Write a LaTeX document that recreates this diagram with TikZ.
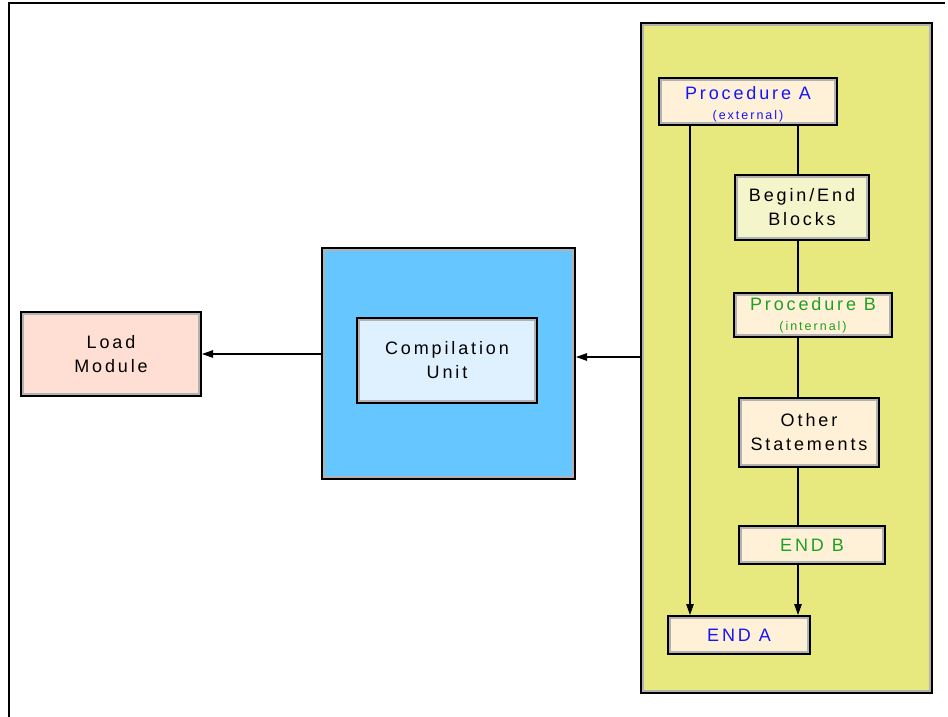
\documentclass[tikz,border=0pt]{standalone}
\usepackage{fontspec}
\setmainfont[LetterSpace=16]{Liberation Sans}
\usetikzlibrary{arrows.meta}
\definecolor{contyel}{HTML}{E7E97F}
\definecolor{cream}{HTML}{FFF1D7}
\definecolor{paleyel}{HTML}{F4F5CB}
\definecolor{cublue}{HTML}{66C6FF}
\definecolor{cuin}{HTML}{DFF0FE}
\definecolor{lmpink}{HTML}{FFDFD3}
\definecolor{txtblue}{HTML}{1414FF}
\definecolor{txtgreen}{HTML}{20A020}
\tikzset{
  box/.style={draw=black, line width=2pt, inner sep=0pt, align=center,
    font=\fontsize{18}{24}\selectfont,
    path picture={\draw[line width=5.5pt, black!30]
      (path picture bounding box.south west) rectangle (path picture bounding box.north east);}},
  lbl/.style={inner sep=0pt, align=center, font=\fontsize{18}{24}\selectfont},
  conn/.style={line width=1.2pt, draw=black},
  arr/.style={conn, -{Triangle[length=11pt,width=7.5pt]}},
}
\begin{document}
\begin{tikzpicture}[x=1pt,y=-1pt]
\useasboundingbox (0,0) rectangle (948,717);
\draw[line width=1.3pt] (9,717) -- (9,3) -- (945,3);

\node[box, fill=contyel, minimum width=291pt, minimum height=670pt] (cont) at (786.5,358) {};
\node[box, fill=cream, minimum width=178pt, minimum height=47pt] (pa) at (748,101.5) {};
\node[lbl] (pat) at ([yshift=-2.5pt]pa.center)
  {\textcolor{txtblue}{Procedure A}\\[-4pt]{\fontsize{12.5}{13}\selectfont\textcolor{txtblue}{(external)}}};
\node[box, fill=paleyel, minimum width=134pt, minimum height=65pt] (be) at (802,207.5)
  {Begin/End\\Blocks};
\node[box, fill=cream, minimum width=158pt, minimum height=44pt] (pb) at (813,315)
  {\textcolor{txtgreen}{Procedure B}\\[-4pt]{\fontsize{12.5}{13}\selectfont\textcolor{txtgreen}{(internal)}}};
\node[box, fill=cream, minimum width=140pt, minimum height=69pt] (os) at (809,432.5)
  {Other\\Statements};
\node[box, fill=cream, minimum width=146pt, minimum height=38pt] (eb) at (812,545)
  {\textcolor{txtgreen}{END B}};
\node[box, fill=cream, minimum width=142pt, minimum height=38pt] (ea) at (739,635)
  {\textcolor{txtblue}{END A}};

\node[box, fill=cublue, minimum width=253pt, minimum height=231pt] (cu) at (448.5,363.5) {};
\node[box, fill=cuin, minimum width=180pt, minimum height=85pt] (cui) at (447,360.5)
  {Compilation\\Unit};
\node[box, fill=lmpink, minimum width=180pt, minimum height=84pt] (lm) at (111,354)
  {Load\\Module};

\coordinate (la) at (690,0);
\coordinate (lb) at (798,0);
\coordinate (ya) at (0,357);

\draw[arr] (pa.south -| la) -- (ea.north -| la);
\draw[conn] (pa.south -| lb) -- (be.north -| lb);
\draw[conn] (be.south -| lb) -- (pb.north -| lb);
\draw[conn] (pb.south -| lb) -- (os.north -| lb);
\draw[conn] (os.south -| lb) -- (eb.north -| lb);
\draw[arr] (eb.south -| lb) -- (ea.north -| lb);

\draw[arr] (cont.west |- ya) -- (cu.east |- ya);
\draw[arr] (cu.west |- lm.east) -- (lm.east);
\end{tikzpicture}
\end{document}
